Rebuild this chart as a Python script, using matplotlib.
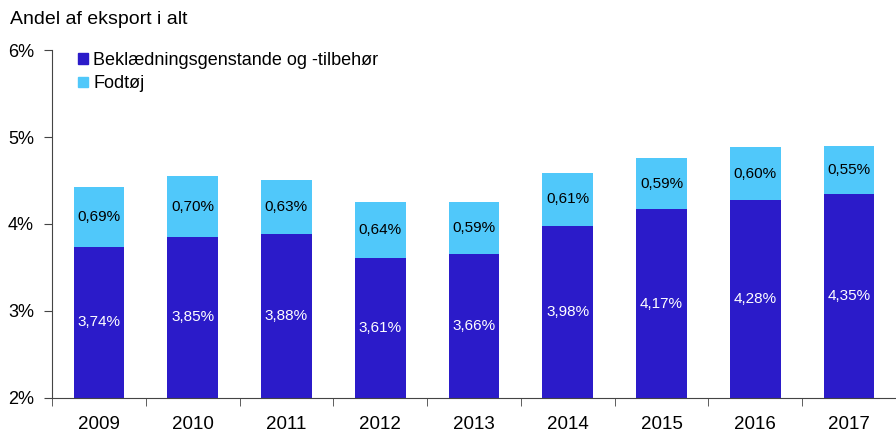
import numpy as np
import matplotlib.pyplot as plt
from matplotlib.patches import Patch
from matplotlib.ticker import FixedLocator

plt.rcParams['font.family'] = ['Liberation Sans', 'DejaVu Sans']

years = ['2009', '2010', '2011', '2012', '2013', '2014', '2015', '2016', '2017']
beklaedning = [3.74, 3.85, 3.88, 3.61, 3.66, 3.98, 4.17, 4.28, 4.35]
fodtoj = [0.69, 0.70, 0.63, 0.64, 0.59, 0.61, 0.59, 0.60, 0.55]

dark = '#2b1bc9'
light = '#50c8fa'

fig = plt.figure(figsize=(8.96, 4.32), dpi=100)
ax = fig.add_axes([0.058, 0.079, 0.942, 0.805])

x = np.arange(len(years))
base = 2.0
bottom_h = np.array(beklaedning) - base
ax.bar(x, bottom_h, bottom=base, width=0.54, color=dark)
ax.bar(x, fodtoj, bottom=np.array(beklaedning), width=0.54, color=light)

def fmt(v):
    return f'{v:.2f}'.replace('.', ',') + '%'

for i in range(len(years)):
    ax.text(x[i], base + bottom_h[i] / 2, fmt(beklaedning[i]), ha='center', va='center',
            color='white', fontsize=11)
    ax.text(x[i], beklaedning[i] + fodtoj[i] / 2, fmt(fodtoj[i]), ha='center', va='center',
            color='black', fontsize=11)

ax.set_ylim(2, 6)
ax.set_xlim(-0.5, len(years) - 0.5)
ax.set_yticks([2, 3, 4, 5, 6])
ax.set_yticklabels(['2%', '3%', '4%', '5%', '6%'], fontsize=13)
ax.set_xticks(x)
ax.set_xticklabels(years, fontsize=13.5)
ax.tick_params(axis='x', length=0, pad=13)
ax.xaxis.set_minor_locator(FixedLocator(np.arange(-0.5, len(years), 1.0)))
ax.tick_params(axis='x', which='minor', length=6, color='#444444')
ax.tick_params(axis='y', length=6, color='#444444', pad=7)

for s in ['top', 'right']:
    ax.spines[s].set_visible(False)
ax.spines['left'].set_color('#444444')
ax.spines['bottom'].set_color('#444444')

handles = [Patch(color=dark, label='Beklædningsgenstande og -tilbehør'),
           Patch(color=light, label='Fodtøj')]
ax.legend(handles=handles, loc='upper left', bbox_to_anchor=(0.022, 1.015), frameon=False,
          fontsize=13, handlelength=0.55, handleheight=0.55, handletextpad=0.3,
          labelspacing=0.35, borderaxespad=0)

fig.text(0.011, 0.955, 'Andel af eksport i alt', fontsize=14, va='center', ha='left')

fig.savefig('out.png', dpi=100)
